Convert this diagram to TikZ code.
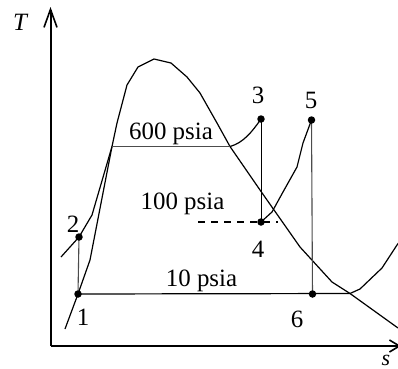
\documentclass[tikz,border=0pt]{standalone}
\usepackage{fontspec}
\setmainfont{Liberation Serif}
\usetikzlibrary{arrows.meta}
\tikzset{
  curve/.style={line width=1.2bp, line join=round},
  thinline/.style={line width=1.1bp, black!70},
  axis/.style={line width=2bp},
  dot/.style={circle, fill=black, inner sep=0pt, minimum size=7.5bp},
  lbl/.style={font=\fontsize{25}{30}\selectfont, anchor=base, inner sep=0pt},
  dashline/.style={line width=1.8bp, dash pattern=on 7bp off 6bp}
}
\begin{document}
\begin{tikzpicture}[x=1bp,y=-1bp]
\useasboundingbox (0,0) rectangle (398,369);
% axes
\coordinate (O) at (50.5,346);
\coordinate (Ttip) at (50.5,7);
\coordinate (stip) at (401,346);
\draw[axis,-{Straight Barb[length=18bp,width=13bp,line width=1.6bp]}] (O) -- (Ttip);
\draw[axis,-{Straight Barb[length=10bp,width=12bp,line width=1.6bp]}] (O) -- (stip);
\node[lbl,font=\fontsize{25}{30}\selectfont\itshape] (Tl) at (20,30) {T};
\node[lbl,font=\fontsize{22}{26}\selectfont\itshape] (sl) at (386,365) {s};
% state points
\coordinate (p1) at (78,294);
\coordinate (p2) at (79,237);
\coordinate (p3) at (261,119);
\coordinate (p4) at (261,222);
\coordinate (p5) at (311.5,120);
\coordinate (p6) at (312.5,294);
\coordinate (f600) at (112,146.5);
\coordinate (g600) at (230,146.5);
\coordinate (g10) at (350,293.5);
\coordinate (a100) at (198,222);
\coordinate (b100) at (278,222);
% saturation dome
\draw[curve] (65,329) -- (p1) -- (90,260) -- (f600) -- (117,123) -- (127,85) -- (138,67)
  -- (154,59) -- (171,63) -- (187,77) -- (200,93) -- (217,123) -- (g600)
  -- (260,190) -- (300,247) -- (332,282) -- (g10) -- (398,328);
% pump / heating line
\draw[curve] (61,257) -- (p2) -- (92,215) -- (f600);
% isobars
\draw[thinline] (f600) -- (g600);
\draw[curve] (g600) .. controls (243,143) and (252,132) .. (p3);
\draw[dashline] (a100) -- (b100);
\draw[curve] (p4) -- (272,212) -- (283,192) -- (297,167) -- (303,143) -- (p5);
\draw[curve] (p1) -- (g10) -- (360,289) -- (382,268) -- (397,245) -- (400,241);
% process lines
\draw[thinline] (p1) -- (p2);
\draw[line width=0.9bp] (p3) -- (p4);
\draw[thinline] (p5) -- (p6);
% dots
\foreach \p in {p1,p2,p3,p4,p5,p6} \node[dot] (d\p) at (\p) {};
% labels
\node[lbl] (l1) at (83,325) {1};
\node[lbl] (l2) at (73,232) {2};
\node[lbl] (l3) at (258,103) {3};
\node[lbl] (l4) at (258,257) {4};
\node[lbl] (l5) at (311,108) {5};
\node[lbl] (l6) at (297,327) {6};
\node[lbl] (i600) at (171,139) {600 psia};
\node[lbl] (i100) at (182.5,209) {100 psia};
\node[lbl] (i10) at (201.5,286) {10 psia};
\end{tikzpicture}
\end{document}
